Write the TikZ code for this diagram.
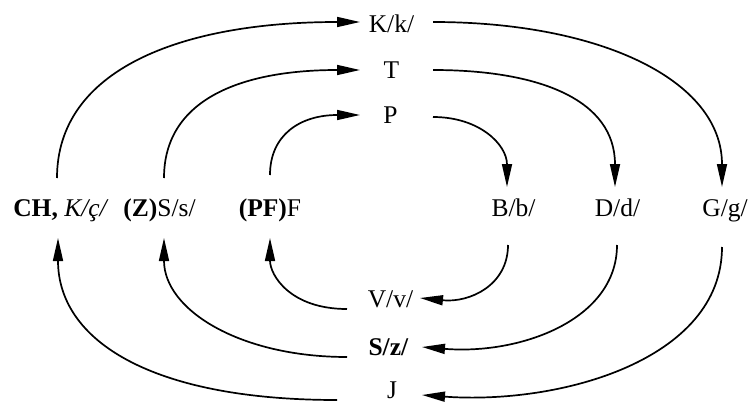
\documentclass[tikz,border=0pt]{standalone}
\usepackage{fontspec}
\setmainfont{Liberation Serif}
\usetikzlibrary{arrows.meta,calc}
\begin{document}
\begin{tikzpicture}[x=1pt,y=-1pt,
  lbl/.style={inner sep=0pt,anchor=base,font=\fontsize{25.5}{30}\selectfont},
  conn/.style={line width=1.7pt,-{Triangle[length=23pt,width=10pt]}}]
\useasboundingbox (0,0) rectangle (750,404);
\node[lbl] (k)  at (391.5,33) {K/k/};
\node[lbl] (t)  at (391.5,78) {T};
\node[lbl] (p)  at (390.5,123) {P};
\node[lbl] (ch) at (61,216) {\textbf{CH,} \textit{K/ç/}};
\node[lbl] (zs) at (159.5,216) {\textbf{(Z)}S/s/};
\node[lbl] (pf) at (270,216) {\textbf{(PF)}F};
\node[lbl] (b)  at (513.5,216) {B/b/};
\node[lbl] (d)  at (617.5,216) {D/d/};
\node[lbl] (g)  at (725,216) {G/g/};
\node[lbl] (v)  at (390.5,307) {V/v/};
\node[lbl] (sz) at (388.5,355) {\textbf{S/z/}};
\node[lbl] (j)  at (392,398) {J};
% upper left
\draw[conn] ($(ch.base)+(-4,-38)$) .. controls +(0,-108) and +(-180,0) .. ($(k.base)+(-31.5,-11)$);
\draw[conn] ($(zs.base)+(4.5,-38)$) .. controls +(0,-78) and +(-120,0) .. ($(t.base)+(-31.5,-8)$);
\draw[conn] ($(pf.base)+(0,-41)$) .. controls +(0,-40) and +(-60,0) .. ($(p.base)+(-30.5,-8)$);
% upper right
\draw[conn] ($(k.base)+(41.5,-11)$) .. controls +(167,0) and +(0,-107) .. ($(g.base)+(-3,-29)$);
\draw[conn] ($(t.base)+(41.5,-8)$) .. controls +(107,0) and +(0,-87) .. ($(d.base)+(-2.5,-29)$);
\draw[conn] ($(p.base)+(42.5,-6)$) .. controls +(47,0) and +(0,-42) .. ($(b.base)+(-6.5,-29)$);
% lower right
\draw[conn] ($(b.base)+(-5.5,29)$) .. controls +(0,40) and +(50,5) .. ($(v.base)+(29.5,-9)$);
\draw[conn] ($(d.base)+(-0.5,29)$) .. controls +(0,75) and +(98,8) .. ($(sz.base)+(33.5,-8)$);
\draw[conn] ($(g.base)+(-3,31)$) .. controls +(0,113) and +(138,10) .. ($(j.base)+(30,-3)$);
% lower left
\draw[conn] ($(v.base)+(-43.5,2)$) .. controls +(-57,0) and +(0,37) .. ($(pf.base)+(0,22)$);
\draw[conn] ($(sz.base)+(-41.5,2)$) .. controls +(-107,0) and +(0,72) .. ($(zs.base)+(4.5,22)$);
\draw[conn] ($(j.base)+(-55,2)$) .. controls +(-187,0) and +(0,102) .. ($(ch.base)+(-3,22)$);
\end{tikzpicture}
\end{document}
